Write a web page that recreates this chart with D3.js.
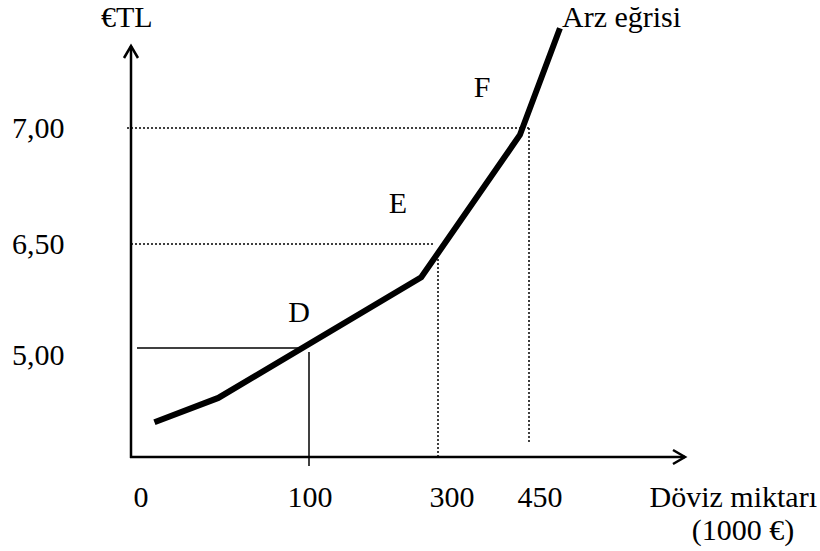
<!DOCTYPE html>
<html><head><meta charset="utf-8">
<script src="https://cdn.jsdelivr.net/npm/d3@7"></script>
<style>body{margin:0;background:#fff}svg text{font-family:"Liberation Serif","Times New Roman",serif;fill:#000}</style>
</head><body><svg id="c" width="820" height="551"></svg>
<script>
// data
const xTicks = [0, 100, 300, 450];
const xTickLabels = ["0", "100", "300", "450"];
const yTicks = [5.00, 6.50, 7.00];
const yTickLabels = ["5,00", "6,50", "7,00"];
const curveQ = [8, 46, 274, 435, 501];
const curveP = [3.93, 4.28, 6.02, 6.97, 7.43];
const pointNames = ["D", "E", "F"];
const pointQ = [100, 300, 450];
const pointP = [5.00, 6.50, 7.00];

const svg = d3.select("#c");
// schematic (non-uniform) scales
const x = d3.scaleLinear().domain(xTicks).range([141, 309, 438, 529]);
const y = d3.scaleLinear().domain(yTicks).range([348, 244, 128]);
const ox = 131, oy = 457;
const font = 30;

// axes
svg.append("line").attr("x1", ox).attr("y1", oy + 1).attr("x2", ox).attr("y2", 46)
  .attr("stroke", "#000").attr("stroke-width", 2.5);
svg.append("path").attr("d", `M${ox-7},${58} L${ox},${46} L${ox+7},${58}`)
  .attr("fill", "none").attr("stroke", "#000").attr("stroke-width", 2.5);
svg.append("line").attr("x1", ox - 1).attr("y1", oy).attr("x2", 685).attr("y2", oy)
  .attr("stroke", "#000").attr("stroke-width", 2.5);
svg.append("path").attr("d", `M${673},${oy-7} L${685},${oy} L${673},${oy+7}`)
  .attr("fill", "none").attr("stroke", "#000").attr("stroke-width", 2.5);

// guide lines
const dot = {"stroke": "#000", "stroke-width": 1.5, "stroke-dasharray": "2,2"};
function ln(x1, y1, x2, y2, st) {
  const l = svg.append("line").attr("x1", x1).attr("y1", y1).attr("x2", x2).attr("y2", y2);
  Object.entries(st).forEach(([k, v]) => l.attr(k, v));
}
// 5,00 / 100 solid
ln(137, y(pointP[0]), x(pointQ[0]) - 7, y(pointP[0]), {"stroke": "#000", "stroke-width": 1.5});
ln(x(pointQ[0]), y(pointP[0]) + 4, x(pointQ[0]), oy + 9, {"stroke": "#000", "stroke-width": 1.5});
// 6,50 / 300 dotted
ln(ox, y(pointP[1]), x(pointQ[1]) - 5, y(pointP[1]), dot);
ln(x(pointQ[1]), y(pointP[1]) + 11, x(pointQ[1]), oy, dot);
// 7,00 / 450 dotted
ln(ox - 4, y(pointP[2]), x(pointQ[2]), y(pointP[2]), dot);
ln(x(pointQ[2]), y(pointP[2]), x(pointQ[2]), oy - 14, dot);

// supply curve
const pts = curveQ.map((q, i) => [x(q), y(curveP[i])]);
svg.append("path").attr("d", d3.line()(pts))
  .attr("fill", "none").attr("stroke", "#000").attr("stroke-width", 6).attr("stroke-linejoin", "miter");

// tick labels
svg.selectAll(".yl").data(yTicks).enter().append("text")
  .attr("x", 12).attr("y", (d, i) => y(d) + (i === 0 ? 17 : 10))
  .attr("font-size", font).text((d, i) => yTickLabels[i]);
svg.selectAll(".xl").data(xTicks).enter().append("text")
  .attr("x", (d, i) => [141, 310, 452, 540][i]).attr("y", 507).attr("text-anchor", "middle")
  .attr("font-size", font).text((d, i) => xTickLabels[i]);

// point labels
const lblPos = [[299, 322], [398, 213], [482, 97]];
pointNames.forEach((n, i) => svg.append("text").attr("x", lblPos[i][0]).attr("y", lblPos[i][1])
  .attr("text-anchor", "middle").attr("font-size", font).text(n));

// axis titles
svg.append("text").attr("x", 101).attr("y", 27).attr("font-size", font).text("€TL");
svg.append("text").attr("x", 562).attr("y", 27).attr("font-size", font).text("Arz eğrisi");
svg.append("text").attr("x", 817).attr("y", 507).attr("text-anchor", "end").attr("font-size", font).text("Döviz miktarı");
svg.append("text").attr("x", 743).attr("y", 540).attr("text-anchor", "middle").attr("font-size", font).text("(1000 €)");
</script></body></html>
